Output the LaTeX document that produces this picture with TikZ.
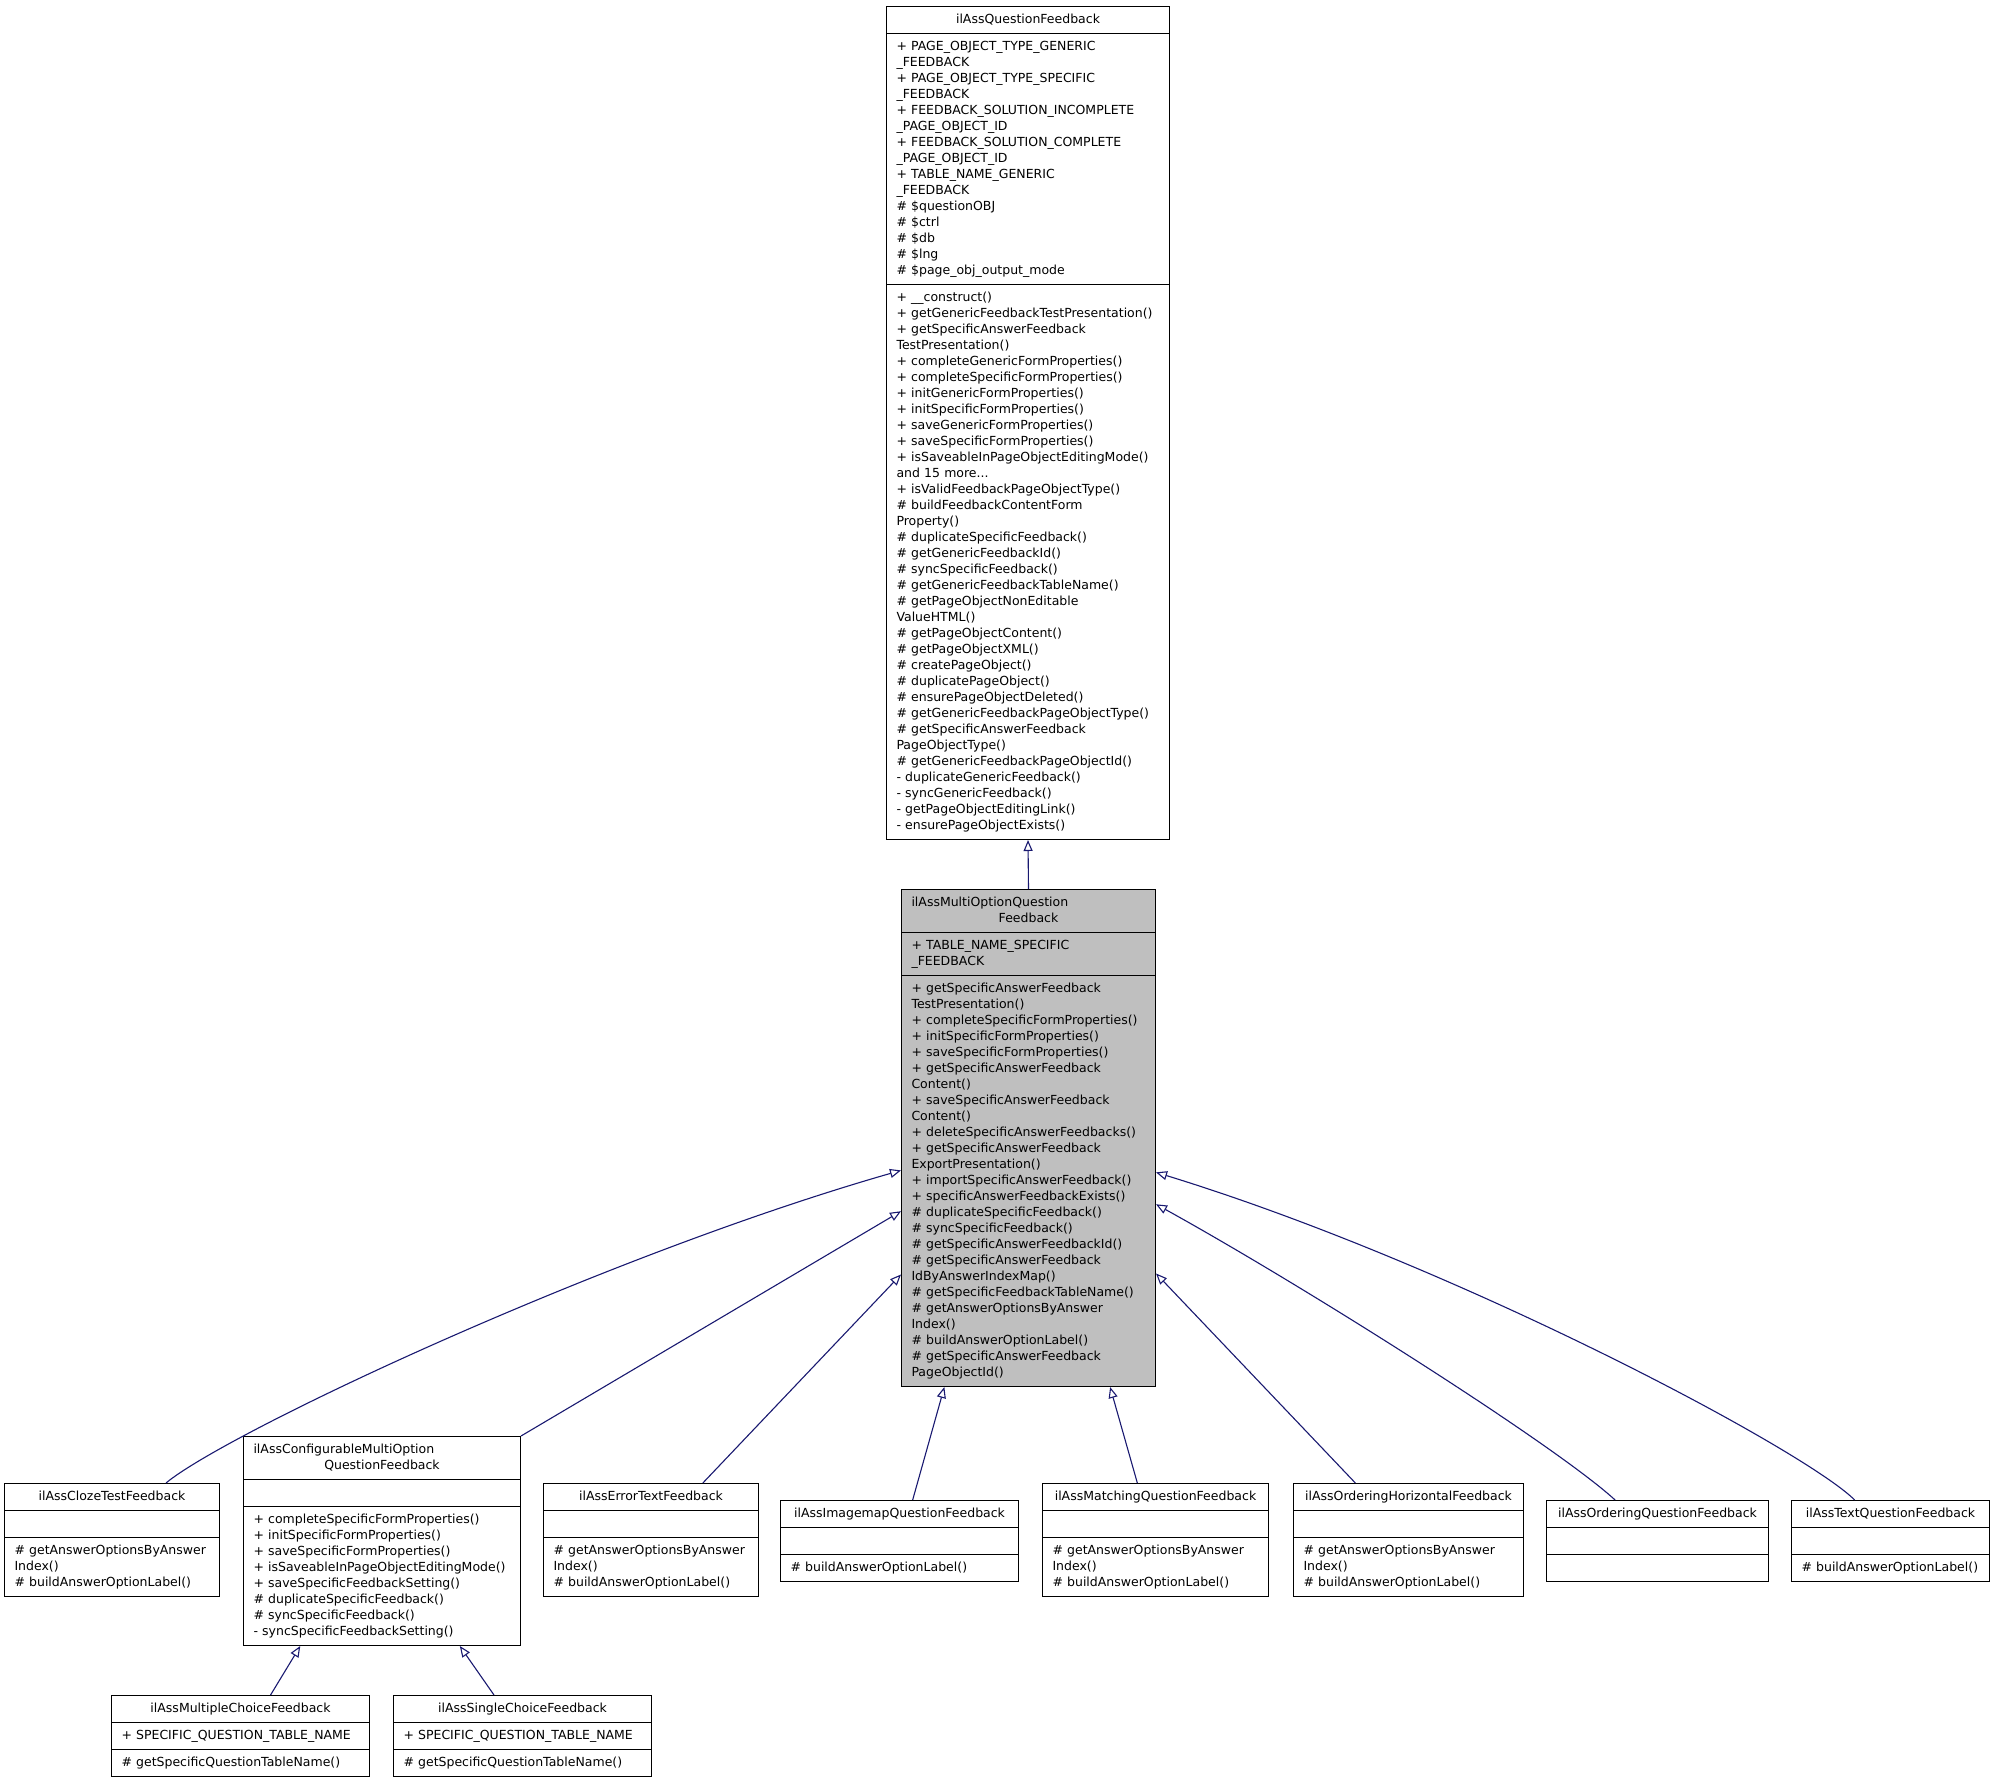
\documentclass[tikz,border=0pt]{standalone}
\usepackage{fontspec}
\setmainfont{DejaVu Sans}
\usetikzlibrary{calc,shapes.multipart,arrows.meta}
\definecolor{edgeblue}{HTML}{191970}
\tikzset{
	classbox/.style={draw=black, line width=1pt, rectangle split, rectangle split parts=3,
		inner xsep=10pt, inner ysep=5pt, align=left, anchor=north west,
		font=\fontsize{12.5}{16}\selectfont},
	derived/.style={draw=edgeblue, line width=1.1pt, -{Triangle[open,length=11pt,width=9pt]}}
}
\newcommand\ctitle[1]{\hbox to\hsize{\hss\strut#1\hss}}

\begin{document}
\begin{tikzpicture}[x=1pt,y=-1pt]
			%%%%% START %%%%%
			\useasboundingbox (0,0) rectangle (1995,1781);
			
			\node[classbox, text width=263pt] (qf) at (886,6) {\ctitle{ilAssQuestionFeedback}
				\nodepart{second}\strut+~PAGE\_OBJECT\_TYPE\_GENERIC\\ \_FEEDBACK\\
				+~PAGE\_OBJECT\_TYPE\_SPECIFIC\\ \_FEEDBACK\\
				+~FEEDBACK\_SOLUTION\_INCOMPLETE\\ \_PAGE\_OBJECT\_ID\\
				+~FEEDBACK\_SOLUTION\_COMPLETE\\ \_PAGE\_OBJECT\_ID\\
				+~TABLE\_NAME\_GENERIC\\ \_FEEDBACK\\
				\#~\$questionOBJ\\ \#~\$ctrl\\ \#~\$db\\ \#~\$lng\\ \#~\$page\_obj\_output\_mode\strut
				\nodepart{third}\strut+~\_\_construct()\\
				+~getGenericFeedbackTestPresentation()\\
				+~getSpecificAnswerFeedback\\ TestPresentation()\\
				+~completeGenericFormProperties()\\
				+~completeSpecificFormProperties()\\
				+~initGenericFormProperties()\\
				+~initSpecificFormProperties()\\
				+~saveGenericFormProperties()\\
				+~saveSpecificFormProperties()\\
				+~isSaveableInPageObjectEditingMode()\\
				and~15~more...\\
				+~isValidFeedbackPageObjectType()\\
				\#~buildFeedbackContentForm\\ Property()\\
				\#~duplicateSpecificFeedback()\\
				\#~getGenericFeedbackId()\\
				\#~syncSpecificFeedback()\\
				\#~getGenericFeedbackTableName()\\
				\#~getPageObjectNonEditable\\ ValueHTML()\\
				\#~getPageObjectContent()\\
				\#~getPageObjectXML()\\
				\#~createPageObject()\\
				\#~duplicatePageObject()\\
				\#~ensurePageObjectDeleted()\\
				\#~getGenericFeedbackPageObjectType()\\
				\#~getSpecificAnswerFeedback\\ PageObjectType()\\
				\#~getGenericFeedbackPageObjectId()\\
				-~duplicateGenericFeedback()\\
				-~syncGenericFeedback()\\
				-~getPageObjectEditingLink()\\
				-~ensurePageObjectExists()\strut};
			
			\node[classbox, fill=black!25, text width=234pt] (moqf) at (901,889) {\strut ilAssMultiOptionQuestion\\ \ctitle{Feedback}
				\nodepart{second}\strut+~TABLE\_NAME\_SPECIFIC\\ \_FEEDBACK\strut
				\nodepart{third}\strut+~getSpecificAnswerFeedback\\ TestPresentation()\\
				+~completeSpecificFormProperties()\\
				+~initSpecificFormProperties()\\
				+~saveSpecificFormProperties()\\
				+~getSpecificAnswerFeedback\\ Content()\\
				+~saveSpecificAnswerFeedback\\ Content()\\
				+~deleteSpecificAnswerFeedbacks()\\
				+~getSpecificAnswerFeedback\\ ExportPresentation()\\
				+~importSpecificAnswerFeedback()\\
				+~specificAnswerFeedbackExists()\\
				\#~duplicateSpecificFeedback()\\
				\#~syncSpecificFeedback()\\
				\#~getSpecificAnswerFeedbackId()\\
				\#~getSpecificAnswerFeedback\\ IdByAnswerIndexMap()\\
				\#~getSpecificFeedbackTableName()\\
				\#~getAnswerOptionsByAnswer\\ Index()\\
				\#~buildAnswerOptionLabel()\\
				\#~getSpecificAnswerFeedback\\ PageObjectId()\strut};
			
			\node[classbox, text width=195pt] (cloze) at (4,1483) {\ctitle{ilAssClozeTestFeedback}
				\nodepart{second}\strut
				\nodepart{third}\strut\#~getAnswerOptionsByAnswer\\ Index()\\ \#~buildAnswerOptionLabel()\strut};
			
			\node[classbox, text width=257pt] (cfg) at (243,1436) {\strut ilAssConfigurableMultiOption\\ \ctitle{QuestionFeedback}
				\nodepart{second}\strut
				\nodepart{third}\strut+~completeSpecificFormProperties()\\
				+~initSpecificFormProperties()\\
				+~saveSpecificFormProperties()\\
				+~isSaveableInPageObjectEditingMode()\\
				+~saveSpecificFeedbackSetting()\\
				\#~duplicateSpecificFeedback()\\
				\#~syncSpecificFeedback()\\
				-~syncSpecificFeedbackSetting()\strut};
			
			\node[classbox, text width=195pt] (errtext) at (543,1483) {\ctitle{ilAssErrorTextFeedback}
				\nodepart{second}\strut
				\nodepart{third}\strut\#~getAnswerOptionsByAnswer\\ Index()\\ \#~buildAnswerOptionLabel()\strut};
			
			\node[classbox, text width=218pt] (imgmap) at (780,1500) {\ctitle{ilAssImagemapQuestionFeedback}
				\nodepart{second}\strut
				\nodepart{third}\strut\#~buildAnswerOptionLabel()\strut};
			
			\node[classbox, text width=206pt] (matching) at (1042,1483) {\ctitle{ilAssMatchingQuestionFeedback}
				\nodepart{second}\strut
				\nodepart{third}\strut\#~getAnswerOptionsByAnswer\\ Index()\\ \#~buildAnswerOptionLabel()\strut};
			
			\node[classbox, text width=210pt] (ordhor) at (1293,1483) {\ctitle{ilAssOrderingHorizontalFeedback}
				\nodepart{second}\strut
				\nodepart{third}\strut\#~getAnswerOptionsByAnswer\\ Index()\\ \#~buildAnswerOptionLabel()\strut};
			
			\node[classbox, text width=202pt] (ordq) at (1546,1500) {\ctitle{ilAssOrderingQuestionFeedback}
				\nodepart{second}\strut
				\nodepart{third}\strut};
			
			\node[classbox, text width=178pt] (textq) at (1791,1500) {\ctitle{ilAssTextQuestionFeedback}
				\nodepart{second}\strut
				\nodepart{third}\strut\#~buildAnswerOptionLabel()\strut};
			
			\node[classbox, text width=238pt] (multi) at (111,1695) {\ctitle{ilAssMultipleChoiceFeedback}
				\nodepart{second}\strut+~SPECIFIC\_QUESTION\_TABLE\_NAME\strut
				\nodepart{third}\strut\#~getSpecificQuestionTableName()\strut};
			
			\node[classbox, text width=238pt] (single) at (393,1695) {\ctitle{ilAssSingleChoiceFeedback}
				\nodepart{second}\strut+~SPECIFIC\_QUESTION\_TABLE\_NAME\strut
				\nodepart{third}\strut\#~getSpecificQuestionTableName()\strut};
			
			% inheritance
			\draw[derived] (moqf.north) -- (qf.south);
			
			\draw[derived] ($(cloze.north west)!0.75!(cloze.north east)$) .. controls +(60,-50) and +(-300,86) .. ($(moqf.north west)!0.565!(moqf.south west)$);
			\draw[derived] (cfg.north east) -- ($(moqf.north west)!0.647!(moqf.south west)$);
			\draw[derived] ($(errtext.north west)!0.74!(errtext.north east)$) -- ($(moqf.north west)!0.774!(moqf.south west)$);
			\draw[derived] ($(imgmap.north west)!0.555!(imgmap.north east)$) -- ($(moqf.south west)!0.17!(moqf.south east)$);
			\draw[derived] ($(matching.north west)!0.42!(matching.north east)$) -- ($(moqf.south west)!0.82!(moqf.south east)$);
			\draw[derived] ($(ordhor.north west)!0.27!(ordhor.north east)$) -- ($(moqf.north east)!0.772!(moqf.south east)$);
			\draw[derived] ($(ordq.north west)!0.31!(ordq.north east)$) .. controls +(-60,-55) and +(150,83) .. ($(moqf.north east)!0.633!(moqf.south east)$);
			\draw[derived] ($(textq.north west)!0.32!(textq.north east)$) .. controls +(-50,-50) and +(300,92) .. ($(moqf.north east)!0.569!(moqf.south east)$);
			
			\draw[derived] ($(multi.north west)!0.616!(multi.north east)$) -- ($(cfg.south west)!0.206!(cfg.south east)$);
			\draw[derived] ($(single.north west)!0.39!(single.north east)$) -- ($(cfg.south west)!0.78!(cfg.south east)$);
			
			%%%%% END %%%%%
\end{tikzpicture}
\end{document}
